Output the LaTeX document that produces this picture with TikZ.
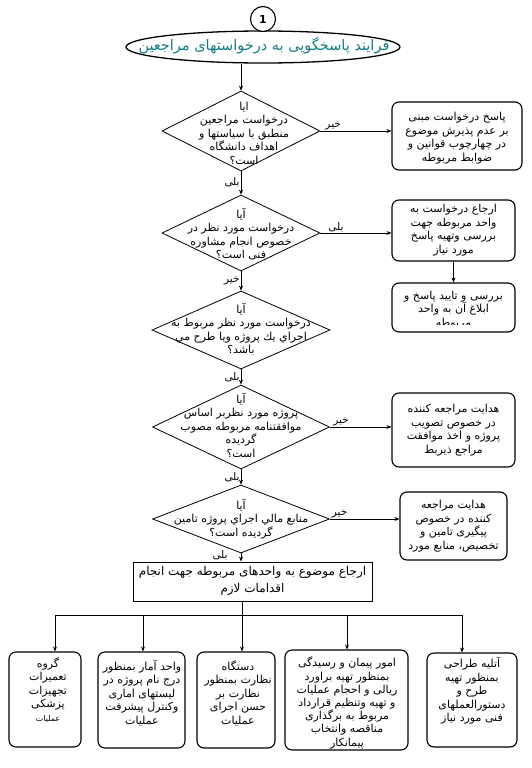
\documentclass[tikz,border=0pt]{standalone}
\usepackage{fontspec}
\usetikzlibrary{shapes.geometric,arrows.meta}
\newfontfamily\fa[Script=Arabic]{DejaVu Sans}
\TeXXeTstate=1
\newcommand\rl[1]{\beginR #1\endR}
\definecolor{tealtxt}{RGB}{20,125,135}
\begin{document}
\begin{tikzpicture}[x=1pt,y=-1pt,
 arr/.style={-{Stealth[length=5pt,width=4pt]},line width=0.7pt},
 dia/.style={diamond,draw,line width=0.8pt,inner sep=0pt},
 rbox/.style={draw,rounded corners=7pt,line width=1.1pt,inner sep=0pt},
 txt/.style={align=center,font=\fa\fontsize{11}{13.5}\selectfont,inner sep=0pt},
 lbl/.style={font=\fa\fontsize{10.5}{11}\selectfont,inner sep=1pt}]
\useasboundingbox (0,0) rectangle (531,768);

% title
\node[ellipse,draw,line width=1.3pt,minimum width=274pt,minimum height=32pt,inner sep=0pt] (e) at (263,47) {};
\node[font=\fa\fontsize{14.5}{16}\selectfont,text=tealtxt] (et) at (264,46) {\rl{فرایند پاسخگویی به درخواستهای مراجعین}};
\node[circle,draw,fill=white,line width=1.1pt,minimum size=25pt,inner sep=0pt,font=\fa\bfseries\fontsize{11}{12}\selectfont] (c1) at (263,19) {1};

% diamonds
\node[dia,minimum width=158pt,minimum height=80pt] (d1) at (241,131) {};
\node[txt] (d1t) at (244,133) {\rl{ایا}\\\rl{درخواست مراجعین}\\\rl{منطبق با سیاستها و}\\\rl{اهداف دانشگاه}\\\rl{است؟}};
\node[dia,minimum width=158pt,minimum height=76pt] (d2) at (241,233) {};
\node[txt] (d2t) at (241,234) {\rl{آیا}\\\rl{درخواست مورد نظر در}\\\rl{خصوص انجام مشاوره}\\\rl{فنی است؟}};
\node[dia,minimum width=178pt,minimum height=78pt] (d3) at (241,330) {};
\node[txt] (d3t) at (241,329) {\rl{آیا}\\\rl{درخواست مورد نظر مربوط به}\\\rl{اجراي يك پروژه ويا طرح مي}\\\rl{باشد؟}};
\node[dia,minimum width=177pt,minimum height=84pt] (d4) at (241,427) {};
\node[txt] (d4t) at (241,425) {\rl{آیا}\\\rl{پروژه مورد نظربر اساس}\\\rl{موافقتنامه مربوطه مصوب}\\\rl{گردیده}\\\rl{است؟}};
\node[dia,minimum width=177pt,minimum height=68pt] (d5) at (241,519) {};
\node[txt] (d5t) at (241,519) {\rl{آیا}\\\rl{منابع مالي اجراي پروژه تامين}\\\rl{گردیده است؟}};

% right boxes
\node[rbox,minimum width=130pt,minimum height=68pt] (b1) at (457,136) {};
\node[txt] (b1t) at (457,138) {\rl{پاسخ درخواست مبنی}\\\rl{بر عدم پذیرش موضوع}\\\rl{در چهارچوب قوانین و}\\\rl{ضوابط مربوطه}};
\node[rbox,minimum width=123pt,minimum height=61pt] (b2) at (453.5,230.5) {};
\node[txt] (b2t) at (453.5,230) {\rl{ارجاع درخواست به}\\\rl{واحد مربوطه جهت}\\\rl{بررسی وتهیه پاسخ}\\\rl{مورد نیاز}};
\node[rbox,minimum width=123pt,minimum height=49pt] (b3) at (453.5,307.5) {};
\begin{scope}
\clip (394,285) rectangle (513,324);
\node[txt] (b3t) at (453.5,310) {\rl{بررسی و تایید پاسخ و}\\\rl{ابلاغ آن به واحد}\\\rl{مربوطه}};
\end{scope}
\node[rbox,minimum width=123pt,minimum height=74pt] (b4) at (453.5,430) {};
\node[txt] (b4t) at (453.5,430) {\rl{هدایت مراجعه کننده}\\\rl{در خصوص تصویب}\\\rl{پروژه و اخذ موافقت}\\\rl{مراجع ذیربط}};
\node[rbox,minimum width=107pt,minimum height=68pt] (b5) at (453.5,526) {};
\node[txt] (b5t) at (453.5,526) {\rl{هدایت مراجعه}\\\rl{کننده در خصوص}\\\rl{پیگیری تامین و}\\\rl{تخصیص، منابع مورد}};

% wide rect
\node[draw,line width=1pt,minimum width=239pt,minimum height=39pt,inner sep=0pt] (r) at (252.5,581.5) {};
\node[align=center,font=\fa\fontsize{12}{17}\selectfont,inner sep=0pt] (rt) at (252.5,581) {\rl{ارجاع موضوع به واحدهای مربوطه جهت انجام}\\\rl{اقدامات لازم}};

% bottom boxes
\node[rbox,minimum width=72pt,minimum height=95pt] (ba) at (45,699.5) {};
\node[txt] (bat) at (48,690) {\rl{گروه}\\\rl{تعمیرات}\\\rl{تجهیزات}\\\rl{پزشکی}\\{\fontsize{8}{9}\selectfont\rl{عملیات}}};
\node[rbox,minimum width=87pt,minimum height=96pt] (bb) at (141.5,700) {};
\node[txt] (bbt) at (142,693) {\rl{واحد آمار بمنظور}\\\rl{درج نام پروژه در}\\\rl{لیستهای اماری}\\\rl{وکنترل پیشرفت}\\\rl{عملیات}};
\node[rbox,minimum width=78pt,minimum height=96pt] (bc) at (236,700) {};
\node[txt] (bct) at (238,693) {\rl{دستگاه}\\\rl{نظارت بمنظور}\\\rl{نظارت بر}\\\rl{حسن اجرای}\\\rl{عملیات}};
\node[rbox,minimum width=123pt,minimum height=100pt] (bd) at (346.5,700) {};
\begin{scope}
\clip[rounded corners=7pt] (bd.south west) rectangle (bd.north east);
\node[txt,font=\fa\fontsize{11}{13.2}\selectfont] (bdt) at (347,703) {\rl{امور پیمان و رسیدگی}\\\rl{بمنظور تهیه براورد}\\\rl{ریالی و احجام عملیات}\\\rl{و تهیه وتنظیم قرارداد}\\\rl{مربوط به برگذاری}\\\rl{مناقصه وانتخاب}\\\rl{پیمانکار}};
\end{scope}
\node[rbox,minimum width=90pt,minimum height=94pt] (be) at (472,700) {};
\node[txt] (bet) at (472,691) {\rl{آتلیه طراحی}\\\rl{بمنظور تهیه}\\\rl{طرح و}\\\rl{دستورالعملهای}\\\rl{فنی مورد نیاز}};

% connectors main axis
\draw[arr] (e.south -| d1.north) -- (d1.north);
\draw[arr] (d1.south) -- node[lbl,left,pos=0.45] {\rl{بلی}} (d2.north);
\draw[arr] (d2.south) -- node[lbl,left,pos=0.5] {\rl{خیر}} (d3.north);
\draw[arr] (d3.south) -- node[lbl,left,pos=0.55] {\rl{بلی}} (d4.north);
\draw[arr] (d4.south) -- node[lbl,left,pos=0.5] {\rl{بلی}} (d5.north);
\draw[arr] (d5.south) -- node[lbl,left,pos=0.2,xshift=-12pt] {\rl{بلی}} (d5.south |- r.north);

% side connectors
\draw[arr] (d1.east) -- node[lbl,above,pos=0.18] {\rl{خیر}} (d1.east -| b1.west);
\draw[arr] (d2.east) -- node[lbl,above,pos=0.22] {\rl{بلی}} (d2.east -| b2.west);
\draw[arr] (b2.south) -- (b3.north);
\draw[arr] (d4.east) -- node[lbl,above,pos=0.18] {\rl{خیر}} (d4.east -| b4.west);
\draw[arr] (d5.east) -- node[lbl,above,pos=0.14] {\rl{خیر}} (d5.east -| b5.west);

% bus
\coordinate (bus) at (242,615);
\coordinate (busl) at (55,615);
\coordinate (busr) at (462,615);
\draw[line width=0.7pt] (r.south -| bus) -- (bus);
\draw[line width=0.7pt] (busl) -- (busr);
\draw[arr] (busl) -- (busl |- ba.north);
\draw[arr] (bus -| 143,0) -- (143,0 |- bb.north);
\draw[arr] (bus) -- (bus |- bc.north);
\draw[arr] (bus -| 347,0) -- (347,0 |- bd.north);
\draw[arr] (busr) -- (busr |- be.north);
\end{tikzpicture}
\end{document}
